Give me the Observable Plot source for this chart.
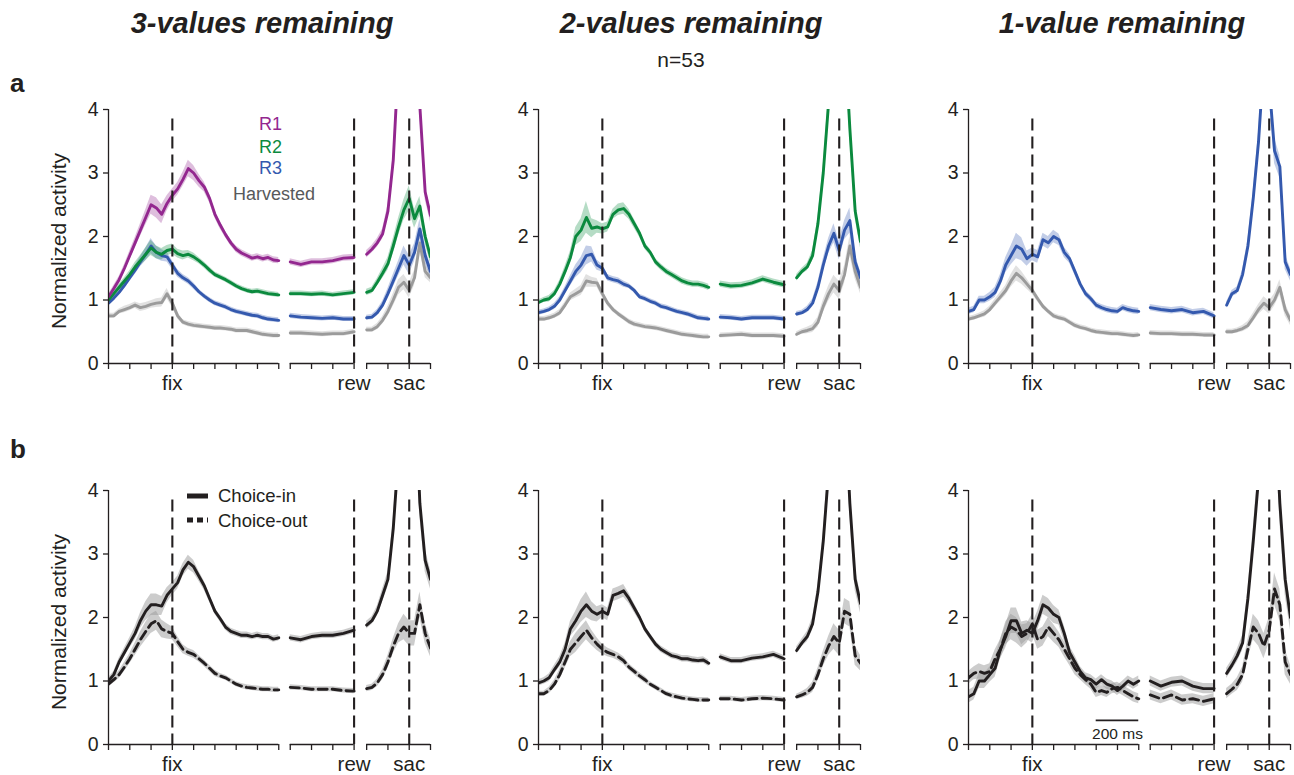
<!DOCTYPE html>
<html><head><meta charset="utf-8">
<script src="https://cdn.jsdelivr.net/npm/d3@7"></script>
<script src="https://cdn.jsdelivr.net/npm/@observablehq/plot@0.6"></script>
<style>
body{margin:0;background:#fff;}
#fig{position:relative;width:1294px;height:775px;overflow:hidden;font-family:"Liberation Sans",Arial,Helvetica,sans-serif;}
.panel{position:absolute;}
.panel svg{max-width:none !important;}
#overlay{position:absolute;left:0;top:0;pointer-events:none;}
</style></head>
<body><div id="fig"></div>
<script>
// ---------- time grids (ms relative to the aligning event) ----------
const fixT = [-300,-275,-250,-225,-200,-175,-150,-125,-100,-75,-50,-25,0,25,50,75,100,125,150,175,200,225,250,275,300,325,350,375,400,425,450,475,500];
const rewT = [-300,-250,-200,-150,-100,-50,0];
const sacT = [-200,-175,-150,-125,-100,-75,-50,-25,0,25,50,75,100];

// ---------- labels ----------
const conditions = ["3-values remaining", "2-values remaining", "1-value remaining"];
const eventLabels = ["fix", "rew", "sac"];
const yTicks = [0, 1, 2, 3, 4];
const seriesNamesA = ["R1", "R2", "R3", "Harvested"];
const seriesNamesB = ["Choice-in", "Choice-out"];
const nLabel = "n=53";
const scaleBarMs = 200;

// ---------- row a, 3-values remaining ----------
const a1_R1_fix = [1.05,1.18,1.32,1.5,1.7,1.9,2.1,2.3,2.5,2.45,2.35,2.52,2.65,2.75,2.9,3.07,3.0,2.88,2.78,2.6,2.35,2.18,2.03,1.9,1.8,1.74,1.7,1.66,1.68,1.65,1.67,1.63,1.62];
const a1_R1_rew = [1.6,1.56,1.6,1.6,1.62,1.66,1.67];
const a1_R1_sac = [1.72,1.8,1.9,2.04,2.4,3.2,4.8,6.0,6.5,5.8,4.05,2.7,2.33];
const a1_R1_se  = [0.04,0.05,0.05,0.06,0.07,0.08,0.1,0.12,0.15,0.16,0.15,0.12,0.1,0.1,0.11,0.13,0.12,0.1,0.08,0.07,0.06,0.06,0.05,0.05,0.05,0.05,0.05,0.05,0.05,0.05,0.05,0.05,0.05, 0.05,0.05,0.05,0.05,0.05,0.05,0.05, 0.06,0.06,0.07,0.08,0.1,0.12,0.15,0.2,0.2,0.2,0.15,0.12,0.1];
const a1_R2_fix = [1.0,1.1,1.2,1.3,1.4,1.52,1.62,1.72,1.82,1.75,1.72,1.78,1.8,1.73,1.7,1.72,1.68,1.62,1.55,1.47,1.4,1.36,1.32,1.27,1.22,1.18,1.15,1.13,1.14,1.12,1.1,1.09,1.08];
const a1_R2_rew = [1.1,1.1,1.09,1.1,1.08,1.1,1.12];
const a1_R2_sac = [1.12,1.15,1.28,1.42,1.57,1.85,2.15,2.42,2.6,2.28,2.48,2.0,1.68];
const a1_R2_se  = [0.04,0.04,0.05,0.05,0.06,0.07,0.08,0.1,0.12,0.1,0.09,0.08,0.08,0.07,0.07,0.06,0.06,0.05,0.05,0.05,0.04,0.04,0.04,0.04,0.04,0.04,0.04,0.04,0.04,0.04,0.04,0.04,0.04, 0.04,0.04,0.04,0.04,0.04,0.04,0.04, 0.05,0.05,0.06,0.08,0.1,0.12,0.14,0.16,0.2,0.15,0.15,0.12,0.1];
const a1_R3_fix = [0.95,1.03,1.12,1.23,1.35,1.47,1.6,1.72,1.85,1.75,1.7,1.68,1.55,1.42,1.35,1.3,1.22,1.13,1.06,1.0,0.95,0.92,0.89,0.85,0.82,0.8,0.78,0.76,0.75,0.72,0.7,0.69,0.68];
const a1_R3_rew = [0.75,0.73,0.72,0.71,0.72,0.7,0.7];
const a1_R3_sac = [0.72,0.73,0.8,0.92,1.1,1.3,1.5,1.7,1.55,1.75,2.12,1.7,1.45];
const a1_R3_se  = [0.04,0.04,0.05,0.05,0.06,0.07,0.08,0.1,0.12,0.1,0.09,0.08,0.07,0.06,0.05,0.05,0.05,0.04,0.04,0.04,0.04,0.04,0.04,0.04,0.04,0.04,0.04,0.04,0.04,0.04,0.04,0.04,0.04, 0.04,0.04,0.04,0.04,0.04,0.04,0.04, 0.04,0.04,0.05,0.06,0.08,0.1,0.12,0.15,0.15,0.14,0.15,0.12,0.1];
const a1_H_fix  = [0.75,0.75,0.82,0.85,0.88,0.92,0.88,0.9,0.93,0.95,0.96,1.1,0.95,0.75,0.65,0.62,0.6,0.59,0.58,0.57,0.56,0.56,0.55,0.54,0.52,0.52,0.52,0.5,0.48,0.46,0.45,0.44,0.44];
const a1_H_rew  = [0.48,0.48,0.47,0.46,0.47,0.47,0.5];
const a1_H_sac  = [0.53,0.53,0.58,0.68,0.82,1.0,1.2,1.28,1.15,1.35,1.9,1.45,1.35];
const a1_H_se   = [0.04,0.04,0.04,0.05,0.05,0.05,0.06,0.06,0.06,0.07,0.07,0.08,0.07,0.05,0.04,0.04,0.04,0.04,0.04,0.04,0.04,0.04,0.04,0.04,0.04,0.04,0.04,0.04,0.04,0.04,0.04,0.04,0.04, 0.04,0.04,0.04,0.04,0.04,0.04,0.04, 0.04,0.04,0.05,0.06,0.08,0.1,0.12,0.12,0.12,0.12,0.12,0.1,0.08];

// ---------- row a, 2-values remaining ----------
const a2_R2_fix = [0.96,1.0,1.02,1.1,1.25,1.45,1.67,2.0,2.1,2.3,2.13,2.15,2.12,2.15,2.35,2.42,2.44,2.35,2.2,2.05,1.85,1.75,1.6,1.52,1.45,1.4,1.35,1.3,1.27,1.25,1.25,1.23,1.2];
const a2_R2_rew = [1.25,1.22,1.23,1.27,1.33,1.28,1.24];
const a2_R2_sac = [1.35,1.45,1.52,1.7,2.2,3.0,4.1,5.5,6.0,5.2,3.7,2.4,1.92];
const a2_R2_se  = [0.04,0.04,0.05,0.05,0.06,0.08,0.1,0.14,0.18,0.25,0.15,0.1,0.08,0.08,0.08,0.09,0.09,0.08,0.07,0.06,0.05,0.05,0.05,0.05,0.05,0.05,0.05,0.05,0.05,0.05,0.05,0.05,0.05, 0.05,0.05,0.05,0.05,0.05,0.05,0.05, 0.05,0.05,0.06,0.08,0.1,0.12,0.15,0.2,0.2,0.2,0.15,0.12,0.1];
const a2_R3_fix = [0.8,0.82,0.85,0.9,1.0,1.15,1.3,1.45,1.55,1.7,1.72,1.55,1.5,1.35,1.32,1.3,1.25,1.22,1.15,1.05,1.02,0.98,0.95,0.9,0.88,0.85,0.82,0.8,0.78,0.75,0.72,0.71,0.7];
const a2_R3_rew = [0.73,0.72,0.7,0.72,0.72,0.72,0.7];
const a2_R3_sac = [0.78,0.8,0.85,0.95,1.2,1.55,1.85,2.05,1.78,2.1,2.25,1.6,1.35];
const a2_R3_se  = [0.04,0.04,0.04,0.05,0.05,0.06,0.08,0.1,0.12,0.15,0.12,0.08,0.06,0.05,0.05,0.05,0.05,0.04,0.04,0.04,0.04,0.04,0.04,0.04,0.04,0.04,0.04,0.04,0.04,0.04,0.04,0.04,0.04, 0.04,0.04,0.04,0.04,0.04,0.04,0.04, 0.04,0.04,0.05,0.06,0.08,0.1,0.12,0.15,0.15,0.15,0.2,0.12,0.1];
const a2_H_fix  = [0.7,0.7,0.72,0.75,0.8,0.92,1.05,1.1,1.15,1.3,1.28,1.27,1.1,0.95,0.85,0.78,0.72,0.66,0.62,0.6,0.58,0.57,0.56,0.54,0.52,0.5,0.48,0.46,0.45,0.44,0.43,0.42,0.42];
const a2_H_rew  = [0.44,0.45,0.46,0.44,0.44,0.44,0.43];
const a2_H_sac  = [0.46,0.5,0.52,0.55,0.65,0.9,1.1,1.25,1.15,1.4,1.85,1.45,1.2];
const a2_H_se   = [0.04,0.04,0.04,0.04,0.05,0.05,0.06,0.07,0.08,0.1,0.08,0.07,0.06,0.05,0.04,0.04,0.04,0.04,0.04,0.04,0.04,0.04,0.04,0.04,0.04,0.04,0.04,0.04,0.04,0.04,0.04,0.04,0.04, 0.04,0.04,0.04,0.04,0.04,0.04,0.04, 0.04,0.04,0.05,0.06,0.08,0.1,0.12,0.14,0.14,0.14,0.15,0.12,0.1];

// ---------- row a, 1-value remaining ----------
const a3_R3_fix = [0.82,0.85,1.0,1.0,1.05,1.12,1.3,1.55,1.7,1.85,1.8,1.65,1.72,1.68,1.95,1.9,2.0,1.95,1.75,1.65,1.45,1.25,1.1,1.02,0.92,0.88,0.85,0.83,0.82,0.88,0.85,0.83,0.82];
const a3_R3_rew = [0.88,0.85,0.83,0.85,0.8,0.82,0.75];
const a3_R3_sac = [0.92,1.1,1.15,1.4,1.85,2.6,3.5,4.8,4.4,3.35,3.1,1.6,1.4];
const a3_R3_se  = [0.05,0.05,0.06,0.06,0.07,0.08,0.1,0.12,0.15,0.2,0.18,0.12,0.1,0.1,0.1,0.1,0.1,0.09,0.08,0.07,0.06,0.05,0.05,0.05,0.05,0.05,0.05,0.05,0.05,0.05,0.05,0.05,0.05, 0.05,0.05,0.05,0.05,0.05,0.05,0.05, 0.05,0.05,0.06,0.08,0.1,0.12,0.15,0.2,0.2,0.2,0.18,0.12,0.1];
const a3_H_fix  = [0.7,0.72,0.75,0.78,0.85,0.95,1.05,1.15,1.3,1.42,1.35,1.25,1.15,1.02,0.9,0.82,0.75,0.72,0.7,0.65,0.6,0.57,0.55,0.52,0.5,0.49,0.48,0.47,0.47,0.46,0.45,0.44,0.45];
const a3_H_rew  = [0.48,0.47,0.47,0.46,0.46,0.45,0.45];
const a3_H_sac  = [0.5,0.5,0.52,0.55,0.6,0.72,0.85,0.95,0.88,1.0,1.2,0.85,0.68];
const a3_H_se   = [0.04,0.04,0.04,0.05,0.05,0.06,0.07,0.08,0.1,0.12,0.1,0.08,0.06,0.05,0.04,0.04,0.04,0.04,0.04,0.04,0.04,0.04,0.04,0.04,0.04,0.04,0.04,0.04,0.04,0.04,0.04,0.04,0.04, 0.04,0.04,0.04,0.04,0.04,0.04,0.04, 0.04,0.04,0.04,0.05,0.06,0.07,0.08,0.1,0.1,0.1,0.12,0.1,0.08];

// ---------- row b, 3-values remaining ----------
const b1_in_fix  = [1.0,1.1,1.3,1.45,1.6,1.75,1.95,2.1,2.2,2.2,2.18,2.35,2.45,2.55,2.75,2.87,2.8,2.65,2.5,2.3,2.1,1.98,1.85,1.78,1.75,1.72,1.72,1.7,1.72,1.7,1.7,1.66,1.68];
const b1_in_rew  = [1.68,1.65,1.7,1.72,1.72,1.75,1.8];
const b1_in_sac  = [1.88,1.95,2.1,2.35,2.6,3.4,4.6,6.0,6.5,5.8,3.8,2.9,2.6];
const b1_in_se   = [0.05,0.05,0.06,0.07,0.08,0.1,0.12,0.15,0.17,0.17,0.15,0.12,0.1,0.1,0.1,0.11,0.1,0.08,0.07,0.06,0.05,0.05,0.05,0.05,0.05,0.05,0.05,0.05,0.05,0.05,0.05,0.05,0.05, 0.05,0.05,0.05,0.05,0.05,0.05,0.05, 0.06,0.06,0.08,0.1,0.12,0.15,0.2,0.2,0.2,0.2,0.2,0.18,0.15];
const b1_out_fix = [0.95,1.02,1.1,1.22,1.35,1.5,1.65,1.78,1.9,1.95,1.82,1.78,1.75,1.62,1.5,1.45,1.42,1.35,1.28,1.2,1.12,1.08,1.05,1.0,0.95,0.92,0.9,0.89,0.88,0.87,0.87,0.86,0.86];
const b1_out_rew = [0.9,0.89,0.87,0.87,0.87,0.85,0.84];
const b1_out_sac = [0.88,0.9,0.97,1.1,1.3,1.55,1.75,1.85,1.75,1.75,2.2,1.75,1.52];
const b1_out_se  = [0.04,0.05,0.06,0.07,0.08,0.1,0.12,0.14,0.15,0.15,0.14,0.12,0.1,0.08,0.07,0.06,0.06,0.05,0.05,0.05,0.05,0.04,0.04,0.04,0.04,0.04,0.04,0.04,0.04,0.04,0.04,0.04,0.04, 0.04,0.04,0.04,0.04,0.04,0.04,0.04, 0.05,0.05,0.06,0.08,0.1,0.12,0.15,0.2,0.2,0.2,0.2,0.16,0.14];

// ---------- row b, 2-values remaining ----------
const b2_in_fix  = [0.97,1.0,1.05,1.18,1.3,1.5,1.82,1.95,2.1,2.2,2.1,2.05,2.1,2.05,2.35,2.38,2.42,2.3,2.15,2.0,1.82,1.7,1.58,1.5,1.45,1.4,1.38,1.35,1.35,1.33,1.32,1.33,1.28];
const b2_in_rew  = [1.38,1.32,1.32,1.36,1.38,1.42,1.35];
const b2_in_sac  = [1.48,1.6,1.7,1.9,2.4,3.2,4.3,5.8,6.2,5.5,3.8,2.6,2.22];
const b2_in_se   = [0.05,0.05,0.06,0.07,0.08,0.1,0.12,0.15,0.18,0.2,0.15,0.12,0.1,0.1,0.1,0.1,0.1,0.08,0.07,0.06,0.05,0.05,0.05,0.05,0.05,0.05,0.05,0.05,0.05,0.05,0.05,0.05,0.05, 0.05,0.05,0.05,0.05,0.05,0.05,0.05, 0.06,0.06,0.08,0.1,0.12,0.15,0.2,0.2,0.2,0.2,0.2,0.18,0.15];
const b2_out_fix = [0.8,0.8,0.85,0.95,1.1,1.3,1.5,1.6,1.7,1.8,1.68,1.58,1.5,1.45,1.42,1.38,1.32,1.22,1.15,1.08,1.02,0.95,0.9,0.85,0.8,0.77,0.75,0.73,0.72,0.71,0.7,0.7,0.7];
const b2_out_rew = [0.72,0.72,0.7,0.72,0.73,0.72,0.7];
const b2_out_sac = [0.75,0.78,0.82,0.9,1.1,1.35,1.55,1.7,1.6,2.1,2.05,1.4,1.28];
const b2_out_se  = [0.04,0.04,0.05,0.06,0.08,0.1,0.12,0.15,0.15,0.15,0.12,0.1,0.08,0.07,0.06,0.06,0.06,0.05,0.05,0.05,0.05,0.04,0.04,0.04,0.04,0.04,0.04,0.04,0.04,0.04,0.04,0.04,0.04, 0.04,0.04,0.04,0.04,0.04,0.04,0.04, 0.04,0.05,0.06,0.08,0.1,0.12,0.15,0.2,0.2,0.2,0.2,0.15,0.12];

// ---------- row b, 1-value remaining ----------
const b3_in_fix  = [0.75,0.8,1.0,1.0,1.1,1.2,1.5,1.7,1.95,1.95,1.75,1.8,1.75,1.95,2.2,2.15,2.05,2.0,1.75,1.45,1.3,1.15,1.05,1.02,0.95,1.02,0.95,0.92,0.85,0.92,1.0,0.95,1.0];
const b3_in_rew  = [1.0,0.92,0.98,1.0,0.92,0.88,0.88];
const b3_in_sac  = [1.12,1.25,1.4,1.6,2.3,3.2,4.2,5.5,6.0,5.5,3.8,2.6,2.0];
const b3_in_se   = [0.1,0.1,0.12,0.12,0.12,0.14,0.15,0.18,0.2,0.2,0.18,0.15,0.15,0.15,0.15,0.15,0.14,0.12,0.12,0.1,0.1,0.08,0.08,0.08,0.08,0.08,0.08,0.08,0.08,0.08,0.08,0.08,0.08, 0.08,0.08,0.08,0.08,0.08,0.08,0.08, 0.08,0.08,0.1,0.12,0.15,0.2,0.25,0.3,0.3,0.3,0.3,0.25,0.2];
const b3_out_fix = [1.05,1.12,1.15,1.12,1.15,1.35,1.5,1.75,1.85,1.8,1.7,1.75,1.9,1.65,1.7,1.85,1.75,1.65,1.5,1.35,1.2,1.1,1.02,0.95,0.82,0.85,0.82,0.88,0.9,0.85,0.8,0.75,0.72];
const b3_out_rew = [0.78,0.72,0.78,0.7,0.72,0.68,0.72];
const b3_out_sac = [0.8,0.87,0.95,1.1,1.5,1.85,1.75,1.55,1.8,2.45,2.2,1.3,1.1];
const b3_out_se  = [0.1,0.1,0.12,0.12,0.12,0.14,0.15,0.18,0.2,0.2,0.18,0.15,0.15,0.15,0.15,0.15,0.14,0.12,0.12,0.1,0.1,0.08,0.08,0.08,0.08,0.08,0.08,0.08,0.08,0.08,0.08,0.08,0.08, 0.08,0.08,0.08,0.08,0.08,0.08,0.08, 0.08,0.08,0.1,0.12,0.15,0.2,0.2,0.2,0.2,0.25,0.25,0.2,0.15];

// ---------- styling ----------
const INK = "#231f20";
const COL = {R1: "#93278f", R2: "#0b8a3e", R3: "#3459ae", Harvested: "#9b9b9b"};
const FONT = '"Liberation Sans", Arial, Helvetica, sans-serif';

// broken axis: three segments placed on one continuous x scale
const SEG = {fix: {event: 300, lo: -300, hi: 500}, rew: {event: 1154, lo: -300, hi: 0}, sac: {event: 1413, lo: -200, hi: 100}};
const X_DOMAIN = [0, 1513];

function buildRows(fix, rew, sac, se) {
  const out = [];
  fixT.forEach((t, i) => out.push({seg: "fix", x: SEG.fix.event + t, y: fix[i], e: se[i]}));
  rewT.forEach((t, i) => out.push({seg: "rew", x: SEG.rew.event + t, y: rew[i], e: se[fixT.length + i]}));
  sacT.forEach((t, i) => out.push({seg: "sac", x: SEG.sac.event + t, y: sac[i], e: se[fixT.length + rewT.length + i]}));
  return out;
}

const segRows = Object.entries(SEG).map(([k, s]) => ({k, a: s.event + s.lo, b: s.event + s.hi}));
const xTickRows = [];
for (const [k, s] of Object.entries(SEG)) for (let t = s.lo; t <= s.hi; t += 100) xTickRows.push({x: s.event + t, label: t === 0 ? k : ""});
const eventX = Object.values(SEG).map(s => s.event);

const W = 404, H = 309, ML = 70, MR = 12, MT = 20, MB = 35;

function makePanel(series, extra = []) {
  const marks = [];
  for (const s of series) {
    marks.push(Plot.areaY(s.rows, {x: "x", y1: d => d.y - d.e, y2: d => d.y + d.e, z: "seg", fill: s.band, fillOpacity: s.bandOpacity, clip: true}));
  }
  for (const s of series) {
    marks.push(Plot.line(s.rows, {x: "x", y: "y", z: "seg", stroke: s.color, strokeWidth: 2.9, strokeDasharray: s.dash, clip: true}));
  }
  marks.push(Plot.ruleX(eventX, {y1: 3.85, y2: 0, stroke: INK, strokeWidth: 2.1, strokeDasharray: "12,6"}));
  marks.push(Plot.ruleX([0], {y1: 0, y2: 4, stroke: INK, strokeWidth: 1.3}));
  marks.push(Plot.ruleY(segRows, {y: 0, x1: "a", x2: "b", stroke: INK, strokeWidth: 1.3}));
  marks.push(Plot.axisY(yTicks, {tickSize: 5, tickPadding: 5, fontSize: 19.5, label: null, stroke: INK, strokeWidth: 1.3, tickFormat: d => String(d)}));
  marks.push(Plot.axisX(xTickRows.map(d => d.x), {tickSize: 6, tickPadding: 6, fontSize: 20.5, label: null, stroke: INK, strokeWidth: 1.3,
    tickFormat: v => (xTickRows.find(d => d.x === v) || {}).label || ""}));
  marks.push(...extra);
  return Plot.plot({
    width: W, height: H, marginLeft: ML, marginRight: MR, marginTop: MT, marginBottom: MB,
    x: {domain: X_DOMAIN}, y: {domain: [0, 4]},
    style: {fontFamily: FONT, fontSize: "19px", color: INK, background: "transparent", overflow: "visible", maxWidth: "none"},
    marks
  });
}

function seriesA(name, fix, rew, sac, se) {
  return {rows: buildRows(fix, rew, sac, se), color: COL[name], band: COL[name], bandOpacity: 0.3, dash: null};
}
function seriesB(name, fix, rew, sac, se) {
  return {rows: buildRows(fix, rew, sac, se), color: INK, band: "#9a9a9a", bandOpacity: 0.5, dash: name === "Choice-out" ? "9,5" : null};
}

const panels = [
  {col: 0, row: 0, series: [seriesA("Harvested", a1_H_fix, a1_H_rew, a1_H_sac, a1_H_se), seriesA("R3", a1_R3_fix, a1_R3_rew, a1_R3_sac, a1_R3_se), seriesA("R2", a1_R2_fix, a1_R2_rew, a1_R2_sac, a1_R2_se), seriesA("R1", a1_R1_fix, a1_R1_rew, a1_R1_sac, a1_R1_se)]},
  {col: 1, row: 0, series: [seriesA("Harvested", a2_H_fix, a2_H_rew, a2_H_sac, a2_H_se), seriesA("R3", a2_R3_fix, a2_R3_rew, a2_R3_sac, a2_R3_se), seriesA("R2", a2_R2_fix, a2_R2_rew, a2_R2_sac, a2_R2_se)]},
  {col: 2, row: 0, series: [seriesA("Harvested", a3_H_fix, a3_H_rew, a3_H_sac, a3_H_se), seriesA("R3", a3_R3_fix, a3_R3_rew, a3_R3_sac, a3_R3_se)]},
  {col: 0, row: 1, series: [seriesB("Choice-out", b1_out_fix, b1_out_rew, b1_out_sac, b1_out_se), seriesB("Choice-in", b1_in_fix, b1_in_rew, b1_in_sac, b1_in_se)]},
  {col: 1, row: 1, series: [seriesB("Choice-out", b2_out_fix, b2_out_rew, b2_out_sac, b2_out_se), seriesB("Choice-in", b2_in_fix, b2_in_rew, b2_in_sac, b2_in_se)]},
  {col: 2, row: 1, series: [seriesB("Choice-out", b3_out_fix, b3_out_rew, b3_out_sac, b3_out_se), seriesB("Choice-in", b3_in_fix, b3_in_rew, b3_in_sac, b3_in_se)],
   extra: [
     Plot.ruleY([0.38], {x1: SEG.fix.event + 300, x2: SEG.fix.event + 300 + scaleBarMs, stroke: INK, strokeWidth: 1.6}),
     Plot.text([`${scaleBarMs} ms`], {x: SEG.fix.event + 300 + scaleBarMs / 2, y: 0.17, fontSize: 15.5, fill: INK, textAnchor: "middle", lineAnchor: "middle"})
   ]}
];

const colAxisX = [108, 538, 968];
const rowTopY = [109, 490];
const fig = document.getElementById("fig");
for (const p of panels) {
  const div = document.createElement("div");
  div.className = "panel";
  div.style.left = (colAxisX[p.col] - ML) + "px";
  div.style.top = (rowTopY[p.row] - MT) + "px";
  div.style.width = W + "px";
  div.style.height = H + "px";
  div.appendChild(makePanel(p.series, p.extra || []));
  fig.appendChild(div);
}

// ---------- overlay text: titles, panel letters, legends, y labels ----------
const NS = "http://www.w3.org/2000/svg";
const ov = document.createElementNS(NS, "svg");
ov.setAttribute("id", "overlay"); ov.setAttribute("width", 1294); ov.setAttribute("height", 775);
ov.style.fontFamily = FONT;
function txt(s, x, y, o = {}) {
  const t = document.createElementNS(NS, "text");
  t.textContent = s; t.setAttribute("x", x); t.setAttribute("y", y);
  t.setAttribute("fill", o.fill || INK);
  t.setAttribute("font-size", o.size || 18);
  if (o.weight) t.setAttribute("font-weight", o.weight);
  if (o.style) t.setAttribute("font-style", o.style);
  if (o.anchor) t.setAttribute("text-anchor", o.anchor);
  if (o.transform) t.setAttribute("transform", o.transform);
  ov.appendChild(t); return t;
}
function seg(x1, y1, x2, y2, w, dash) {
  const l = document.createElementNS(NS, "line");
  l.setAttribute("x1", x1); l.setAttribute("y1", y1); l.setAttribute("x2", x2); l.setAttribute("y2", y2);
  l.setAttribute("stroke", INK); l.setAttribute("stroke-width", w);
  if (dash) l.setAttribute("stroke-dasharray", dash);
  ov.appendChild(l);
}
const titleX = [262, 691, 1122];
conditions.forEach((c, i) => txt(c, titleX[i], 33, {size: 29, weight: "bold", style: "italic", anchor: "middle"}));
txt(nLabel, 681, 67, {size: 21, anchor: "middle"});
txt("a", 10, 92, {size: 26, weight: "bold"});
txt("b", 10, 458, {size: 26, weight: "bold"});
txt("Normalized activity", 66, 241, {size: 21, anchor: "middle", transform: "rotate(-90 66 241)"});
txt("Normalized activity", 66, 622, {size: 21, anchor: "middle", transform: "rotate(-90 66 622)"});
// legend row a
const legY = [130, 152.5, 174];
seriesNamesA.slice(0, 3).forEach((n, i) => txt(n, 259, legY[i], {size: 18, fill: COL[n]}));
txt(seriesNamesA[3], 233, 200, {size: 18, fill: "#58595b"});
// legend row b
seg(187, 496, 208, 496, 5, null);
txt(seriesNamesB[0], 218, 502, {size: 18.5});
seg(187, 520, 208, 520, 5, "6,4");
txt(seriesNamesB[1], 218, 527, {size: 18.5});
fig.appendChild(ov);
</script>
</body></html>
